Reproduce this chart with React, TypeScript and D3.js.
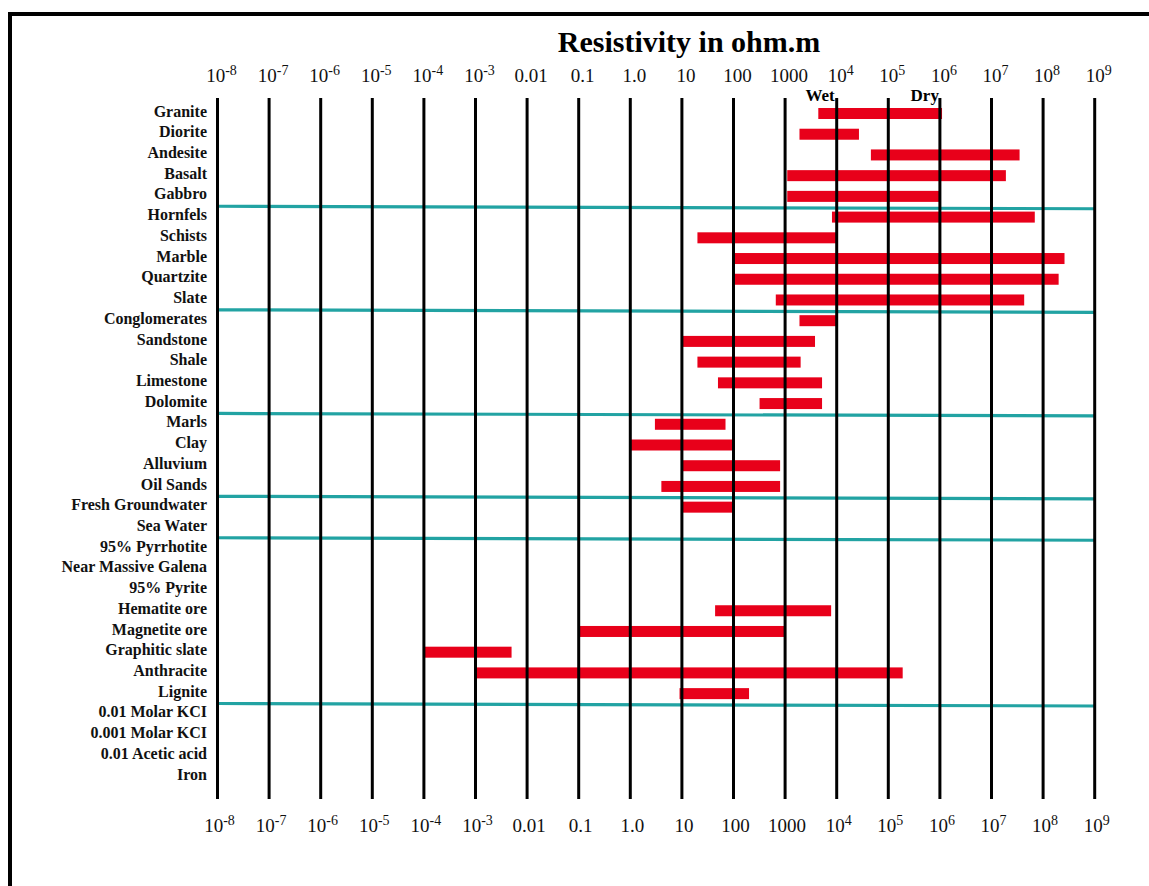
import React, { useEffect, useRef } from 'react';
import * as d3 from 'd3';

// rows, top to bottom
const materials = [
  "Granite", "Diorite", "Andesite", "Basalt", "Gabbro",
  "Hornfels", "Schists", "Marble", "Quartzite", "Slate",
  "Conglomerates", "Sandstone", "Shale", "Limestone", "Dolomite",
  "Marls", "Clay", "Alluvium", "Oil Sands",
  "Fresh Groundwater", "Sea Water",
  "95% Pyrrhotite", "Near Massive Galena", "95% Pyrite", "Hematite ore",
  "Magnetite ore", "Graphitic slate", "Anthracite", "Lignite",
  "0.01 Molar KCI", "0.001 Molar KCI", "0.01 Acetic acid", "Iron"
];

// resistivity range in ohm.m (null = no bar drawn)
const lows: (number | null)[] = [
  4400, 1900, 46000, 1100, 1100,
  8100, 20, 100, 100, 660,
  1900, 10, 20, 50, 320,
  3, 1, 10, 4,
  10, null,
  null, null, null, 44,
  0.1, 0.0001, 0.001, 9,
  null, null, null, null
];
const highs: (number | null)[] = [
  1.1e6, 27000, 3.5e7, 1.9e7, 1.05e6,
  6.9e7, 9800, 2.6e8, 2.0e8, 4.3e7,
  10000, 3800, 2000, 5200, 5200,
  70, 100, 800, 800,
  100, null,
  null, null, null, 7800,
  1000, 0.005, 1.9e5, 200,
  null, null, null, null
];

// teal separators drawn below these rows
const groupEnds = ["Gabbro", "Slate", "Dolomite", "Oil Sands", "Sea Water", "Lignite"];

const tickValues = [1e-8, 1e-7, 1e-6, 1e-5, 1e-4, 1e-3, 0.01, 0.1, 1, 10, 100, 1000, 1e4, 1e5, 1e6, 1e7, 1e8, 1e9];
const tickLabels: [string, string][] = [
  ["10", "-8"], ["10", "-7"], ["10", "-6"], ["10", "-5"], ["10", "-4"], ["10", "-3"],
  ["0.01", ""], ["0.1", ""], ["1.0", ""], ["10", ""], ["100", ""], ["1000", ""],
  ["10", "4"], ["10", "5"], ["10", "6"], ["10", "7"], ["10", "8"], ["10", "9"]
];

const W = 1149;
const H = 886;
const serif = "'Liberation Serif', 'Times New Roman', serif";

export default function App() {
  const svgRef = useRef<SVGSVGElement>(null);

  useEffect(() => {
    document.body.style.margin = "0";
    if (!svgRef.current) return;
    const svg = d3.select(svgRef.current);
    svg.selectAll("*").remove();

    const x = d3.scaleLog().domain([1e-8, 1e9]).range([217.5, 1094.7]);
    const y = d3.scalePoint<string>().domain(materials).range([111, 774]);

    const lineTop = 98;
    const lineBottom = 799;
    const barH = 11;

    svg.append("rect").attr("width", W).attr("height", H).attr("fill", "#fff");

    // frame (top + left edges)
    svg.append("path")
      .attr("d", `M10,${H} L10,14 L${W},14`)
      .attr("fill", "none")
      .attr("stroke", "#000")
      .attr("stroke-width", 4);

    // title
    svg.append("text")
      .attr("x", 689).attr("y", 52)
      .attr("text-anchor", "middle")
      .attr("font-family", serif)
      .attr("font-weight", "bold")
      .attr("font-size", 30)
      .text("Resistivity in ohm.m");

    // teal group separators
    groupEnds.forEach(name => {
      const i = materials.indexOf(name);
      const yy = ((y(materials[i]) as number) + (y(materials[i + 1]) as number)) / 2 + 2;
      svg.append("line")
        .attr("x1", x(1e-8)).attr("x2", x(1e9))
        .attr("y1", yy).attr("y2", yy + 2.5)
        .attr("stroke", "#22a3a3")
        .attr("stroke-width", 3.2);
    });

    // range bars
    svg.append("g")
      .selectAll("rect")
      .data(materials.map((m, i) => ({ m, lo: lows[i], hi: highs[i] })).filter(d => d.lo !== null && d.hi !== null))
      .enter()
      .append("rect")
      .attr("x", d => x(d.lo as number))
      .attr("width", d => x(d.hi as number) - x(d.lo as number))
      .attr("y", d => (y(d.m) as number) + 2.5 - barH / 2)
      .attr("height", barH)
      .attr("fill", "#e8001a");

    // vertical decade lines
    svg.append("g")
      .selectAll("line")
      .data(tickValues)
      .enter()
      .append("line")
      .attr("x1", d => x(d)).attr("x2", d => x(d))
      .attr("y1", lineTop).attr("y2", lineBottom)
      .attr("stroke", "#000")
      .attr("stroke-width", 3);

    // tick labels top and bottom
    const drawTicks = (baseY: number, dx: number) => {
      const t = svg.append("g")
        .selectAll("text")
        .data(tickValues)
        .enter()
        .append("text")
        .attr("x", d => x(d) + dx)
        .attr("y", baseY)
        .attr("text-anchor", "middle")
        .attr("font-family", serif)
        .attr("font-size", 19)
        .attr("fill", "#111");
      t.each(function (_, i) {
        const el = d3.select(this);
        const [base, sup] = tickLabels[i];
        el.append("tspan").text(base);
        if (sup) {
          el.append("tspan")
            .attr("dy", -7)
            .attr("font-size", 14)
            .text(sup);
        }
      });
    };
    drawTicks(82, 4);
    drawTicks(832, 2);

    // Wet / Dry annotations
    svg.append("text")
      .attr("x", x(1e4) - 2).attr("y", 101)
      .attr("text-anchor", "end")
      .attr("font-family", serif).attr("font-weight", "bold").attr("font-size", 17)
      .text("Wet");
    svg.append("text")
      .attr("x", x(1e6) - 1).attr("y", 101)
      .attr("text-anchor", "end")
      .attr("font-family", serif).attr("font-weight", "bold").attr("font-size", 17)
      .text("Dry");

    // row labels
    svg.append("g")
      .selectAll("text")
      .data(materials)
      .enter()
      .append("text")
      .attr("x", 207)
      .attr("y", d => y(d) as number)
      .attr("dy", "0.35em")
      .attr("text-anchor", "end")
      .attr("font-family", serif)
      .attr("font-weight", "bold")
      .attr("font-size", 16)
      .attr("fill", "#111")
      .text(d => d);
  }, []);

  return (
    <svg ref={svgRef} width={W} height={H} style={{ display: "block" }} />
  );
}
